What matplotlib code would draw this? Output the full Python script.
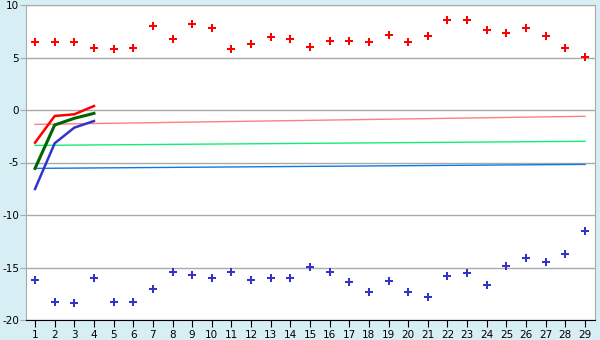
import matplotlib.pyplot as plt
import numpy as np

# point series
x_pts = list(range(1, 30))
red_pts = [6.5, 6.5, 6.5, 5.93, 5.84, 5.93, 7.97, 6.73, 8.22, 7.78,
           5.78, 6.25, 6.92, 6.73, 5.97, 6.54, 6.54, 6.44, 7.11, 6.5,
           7.02, 8.54, 8.54, 7.59, 7.3, 7.78, 7.02, 5.87, 5.02]
blue_pts = [-16.22, -18.32, -18.41, -16.03, -18.32, -18.32, -17.08, -15.46, -15.75, -16.03,
            -15.46, -16.22, -16.03, -16.03, -14.98, -15.46, -16.41, -17.37, -16.32, -17.37,
            -17.84, -15.84, -15.56, -16.7, -14.89, -14.13, -14.51, -13.75, -11.56]

# short lines
x_short = [1, 2, 3, 4]
red_line = [-3.11, -0.57, -0.41, 0.38]
green_line = [-5.56, -1.43, -0.79, -0.32]
blue_line = [-7.52, -3.17, -1.68, -1.05]

# trend lines (start, end)
x_trend = [1, 29]
red_trend = [-1.37, -0.60]
green_trend = [-3.37, -2.98]
blue_trend = [-5.56, -5.18]

y_ticks = [-20, -15, -10, -5, 0, 5, 10]

bg = '#d8eef5'
fig = plt.figure(figsize=(6, 3.4), dpi=100, facecolor=bg)
ax = fig.add_axes([26 / 600, 20 / 340, 569 / 600, 315 / 340])
ax.set_facecolor('white')

ax.plot(x_trend, red_trend, color='#ff7f7f', lw=1.0)
ax.plot(x_trend, green_trend, color='#11ee77', lw=1.0)
ax.plot(x_trend, blue_trend, color='#0f77e6', lw=1.0)

ax.plot(x_short, red_line, color='#ff0000', lw=1.8)
ax.plot(x_short, green_line, color='#006600', lw=2.2)
ax.plot(x_short, blue_line, color='#3333cc', lw=1.8)

ax.plot(x_pts, red_pts, ls='none', marker='P', ms=5.5, color='#ff0000', mew=0)
ax.plot(x_pts, blue_pts, ls='none', marker='P', ms=5.5, color='#3333cc', mew=0)

ax.set_xlim(0.54, 29.51)
ax.set_ylim(-20, 10)
ax.set_xticks(x_pts)
ax.set_yticks(y_ticks)
ax.set_yticklabels([str(v) for v in y_ticks])
ax.yaxis.grid(True, color='#aaaaaa', lw=1)
ax.set_axisbelow(True)

for s in ['left', 'right', 'top']:
    ax.spines[s].set_color('#aaaaaa')
ax.spines['bottom'].set_color('#000000')
ax.tick_params(axis='y', length=4, color='#aaaaaa', labelsize=7.5, pad=1)
ax.tick_params(axis='x', length=5, color='#000000', labelsize=7.5, pad=2)

fig.savefig('out.png', dpi=100, facecolor=bg)
